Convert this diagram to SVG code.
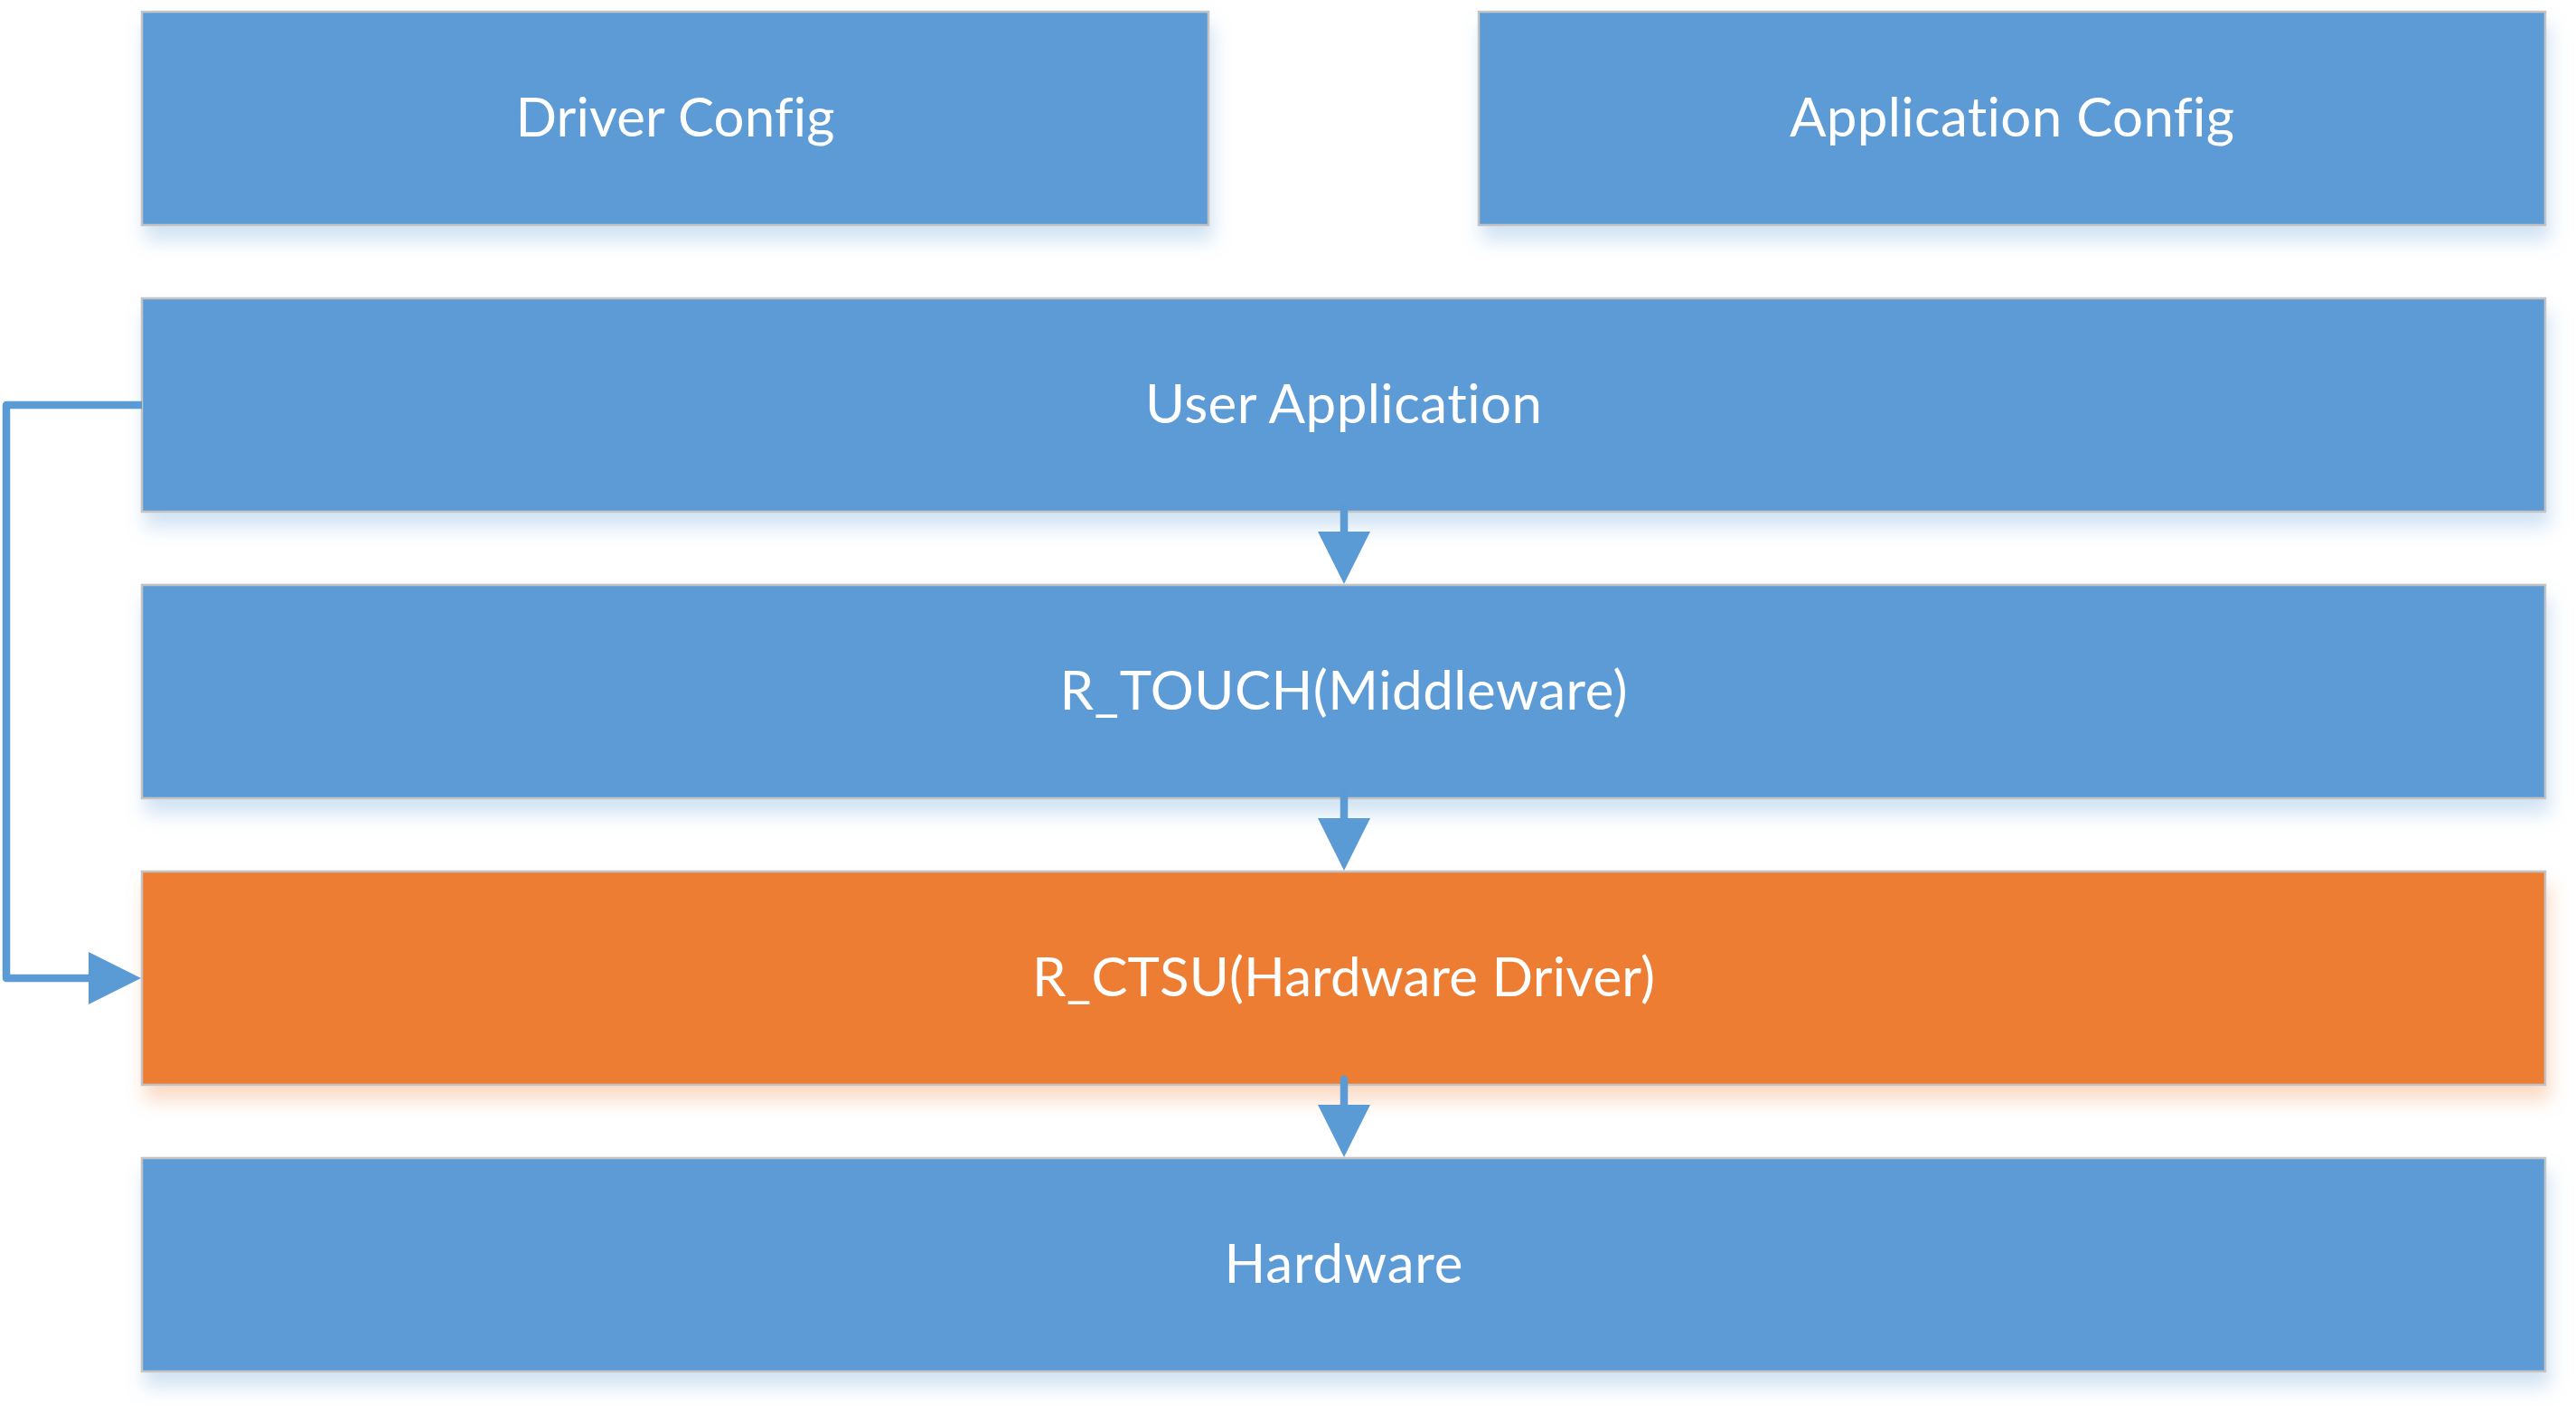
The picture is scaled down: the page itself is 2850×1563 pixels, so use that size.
<svg xmlns="http://www.w3.org/2000/svg" width="2850" height="1563" viewBox="0 0 2850 1563">
  <defs>
    <style>
      .box { stroke: #C4C4C4; stroke-width: 2.5; }
      .blue { fill: #5B9BD5; }
      .orange { fill: #ED7D31; }
      .lbl { font-family: Lato, "Open Sans", "Liberation Sans", sans-serif; font-size: 60px; fill: #FFFFFF; text-anchor: middle; font-variant-ligatures: none; font-feature-settings: "liga" 0, "dlig" 0; }
      .conn { fill: none; stroke: #5B9BD5; stroke-width: 8.5; stroke-linejoin: round; stroke-linecap: round; }
    </style>
    <filter id="shBlue" x="-5%" y="-20%" width="110%" height="150%">
      <feGaussianBlur in="SourceAlpha" stdDeviation="10"/>
      <feOffset dx="4" dy="16" result="b"/>
      <feFlood flood-color="#5B9BD5" flood-opacity="0.28"/>
      <feComposite in2="b" operator="in"/>
      <feMerge><feMergeNode/><feMergeNode in="SourceGraphic"/></feMerge>
    </filter>
    <filter id="shOrange" x="-5%" y="-20%" width="110%" height="150%">
      <feGaussianBlur in="SourceAlpha" stdDeviation="10"/>
      <feOffset dx="4" dy="16" result="b"/>
      <feFlood flood-color="#ED7D31" flood-opacity="0.28"/>
      <feComposite in2="b" operator="in"/>
      <feMerge><feMergeNode/><feMergeNode in="SourceGraphic"/></feMerge>
    </filter>
    <marker id="head" markerUnits="userSpaceOnUse" markerWidth="58" markerHeight="58" viewBox="0 0 58 58" refX="0" refY="29" orient="auto">
      <path d="M0,0 L58,29 L0,58 Z" fill="#5B9BD5"/>
    </marker>
  </defs>
  <rect width="2850" height="1563" fill="#FFFFFF"/>

  <g id="driver-config">
    <rect class="box blue" x="157" y="13" width="1180" height="236" filter="url(#shBlue)"/>
    <text class="lbl" x="747" y="151" textLength="353" lengthAdjust="spacing">Driver Config</text>
  </g>
  <g id="application-config">
    <rect class="box blue" x="1636" y="13" width="1180" height="236" filter="url(#shBlue)"/>
    <text class="lbl" x="2226" y="151" textLength="492" lengthAdjust="spacing">Application Config</text>
  </g>
  <g id="user-application">
    <rect class="box blue" x="157" y="330" width="2659" height="236" filter="url(#shBlue)"/>
    <text class="lbl" x="1486.5" y="468" textLength="439" lengthAdjust="spacing">User Application</text>
  </g>
  <g id="r-touch">
    <rect class="box blue" x="157" y="647" width="2659" height="236" filter="url(#shBlue)"/>
    <text class="lbl" x="1486.5" y="785" textLength="628" lengthAdjust="spacing">R_TOUCH(Middleware)</text>
  </g>
  <g id="r-ctsu">
    <rect class="box orange" x="157" y="964" width="2659" height="236" filter="url(#shOrange)"/>
    <text class="lbl" x="1486.5" y="1102" textLength="689" lengthAdjust="spacing">R_CTSU(Hardware Driver)</text>
  </g>
  <g id="hardware">
    <rect class="box blue" x="157" y="1281" width="2659" height="236" filter="url(#shBlue)"/>
    <text class="lbl" x="1486.5" y="1419" textLength="264" lengthAdjust="spacing">Hardware</text>
  </g>

  <g id="connectors">
    <path class="conn" d="M1487,560 V588" marker-end="url(#head)"/>
    <path class="conn" d="M1487,877 V905" marker-end="url(#head)"/>
    <path class="conn" d="M1487,1194 V1222" marker-end="url(#head)"/>
    <path class="conn" style="stroke-linecap:butt" d="M157,448 H7 V1082 H98" marker-end="url(#head)"/>
  </g>
</svg>
